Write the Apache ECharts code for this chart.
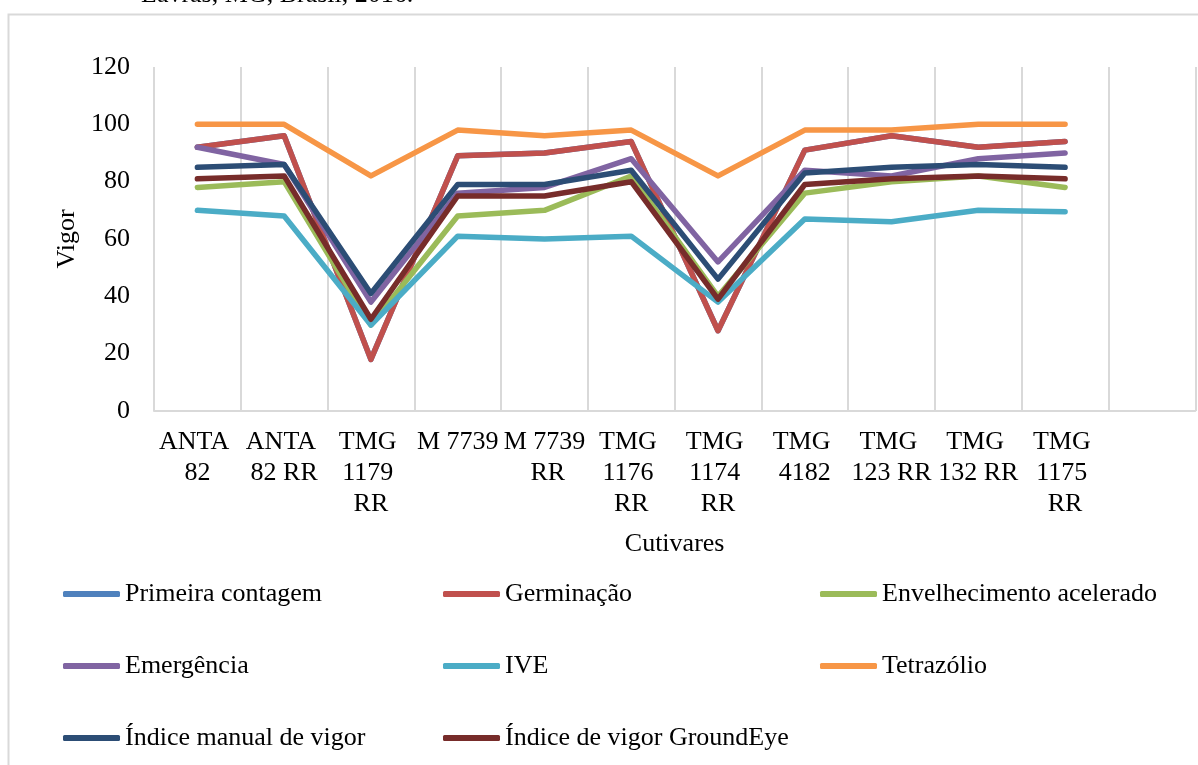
<!DOCTYPE html>
<html>
<head>
<meta charset="utf-8">
<script src="https://cdn.jsdelivr.net/npm/echarts@6/dist/echarts.min.js"></script>
<style>html,body{margin:0;padding:0;background:#fff}#c{width:1198px;height:765px}</style>
</head>
<body>
<div id="c"></div>
<script>
const categories = ['ANTA 82','ANTA 82 RR','TMG 1179 RR','M 7739','M 7739 RR','TMG 1176 RR','TMG 1174 RR','TMG 4182','TMG 123 RR','TMG 132 RR','TMG 1175 RR',''];
const yTicks = [0, 20, 40, 60, 80, 100, 120];
const primeiraContagem = [92, 96, 18, 89, 90, 94, 28, 91, 96, 92, 94];
const germinacao = [92, 96, 18, 89, 90, 94, 28, 91, 96, 92, 94];
const envelhecimento = [78, 80, 30, 68, 70, 82, 40, 76, 80, 82, 78];
const emergencia = [92, 86, 38, 76, 78, 88, 52, 84, 82, 88, 90];
const ive = [70, 68, 30, 61, 60, 61, 38, 67, 66, 70, 69.5];
const tetrazolio = [100, 100, 82, 98, 96, 98, 82, 98, 98, 100, 100];
const indiceManual = [85, 86, 41, 79, 79, 84, 46, 83, 85, 86, 85];
const groundEye = [81, 82, 32, 75, 75, 80, 39, 79, 81, 82, 81];

const seriesDefs = [
  ['Primeira contagem', primeiraContagem, '#4F81BD'],
  ['Germinação', germinacao, '#C0504D'],
  ['Envelhecimento acelerado', envelhecimento, '#9BBB59'],
  ['Emergência', emergencia, '#8064A2'],
  ['IVE', ive, '#4BACC6'],
  ['Tetrazólio', tetrazolio, '#F79646'],
  ['Índice manual de vigor', indiceManual, '#2C4D75'],
  ['Índice de vigor GroundEye', groundEye, '#772C2A']
];
const FONT = '"Liberation Serif", "Times New Roman", serif';
const legendText = {fontFamily: FONT, fontSize: 26, color: '#000', lineHeight: 30};
const legendBase = {
  orient: 'vertical', top: 579, padding: 0, itemWidth: 57, itemHeight: 6, itemGap: 42, icon: 'roundRect',
  textStyle: legendText, selectedMode: false
};
const chart = echarts.init(document.getElementById('c'), null, {renderer: 'canvas'});
chart.setOption({
  animation: false,
  backgroundColor: '#fff',
  textStyle: {fontFamily: FONT},
  graphic: [
    {type: 'rect', left: 6, top: 12, shape: {x: 0, y: 0, width: 1400, height: 900}, style: {fill: 'none', stroke: '#d9d9d9', lineWidth: 2}, z: -1},
    {type: 'text', x: 141, y: -18, style: {text: 'Lavras, MG, Brasil, 2016.', fontFamily: FONT, fontSize: 26, fill: '#000', verticalAlign: 'top'}}
  ],
  grid: {left: 154, top: 67, width: 1050, height: 344, containLabel: false},
  legend: [
    Object.assign({}, legendBase, {left: 63, data: ['Primeira contagem', 'Emergência', 'Índice manual de vigor']}),
    Object.assign({}, legendBase, {left: 443, data: ['Germinação', 'IVE', 'Índice de vigor GroundEye']}),
    Object.assign({}, legendBase, {left: 820, data: ['Envelhecimento acelerado', 'Tetrazólio']})
  ],
  xAxis: {
    type: 'category', data: categories, boundaryGap: true,
    name: 'Cutivares', nameLocation: 'middle', nameGap: 120,
    nameTextStyle: {fontFamily: FONT, fontSize: 26, color: '#000'},
    axisLine: {lineStyle: {color: '#d9d9d9', width: 2}},
    axisTick: {show: false},
    axisLabel: {interval: 0, fontFamily: FONT, fontSize: 26, color: '#000', lineHeight: 31, margin: 16, width: 87, overflow: 'break'},
    splitLine: {show: true, interval: 0, lineStyle: {color: '#d9d9d9', width: 2}}
  },
  yAxis: {
    type: 'value', min: yTicks[0], max: yTicks[yTicks.length - 1], interval: 20,
    name: 'Vigor', nameLocation: 'middle', nameGap: 72, nameRotate: 90,
    nameTextStyle: {fontFamily: FONT, fontSize: 26, color: '#000'},
    axisLine: {show: false}, axisTick: {show: false}, splitLine: {show: false},
    axisLabel: {fontFamily: FONT, fontSize: 26, color: '#000', margin: 24}
  },
  series: seriesDefs.map(([name, data, color]) => ({
    name, type: 'line', data, symbol: 'none', color,
    lineStyle: {width: 5.5, color, cap: 'round', join: 'round'}
  }))
});
</script>
</body>
</html>
